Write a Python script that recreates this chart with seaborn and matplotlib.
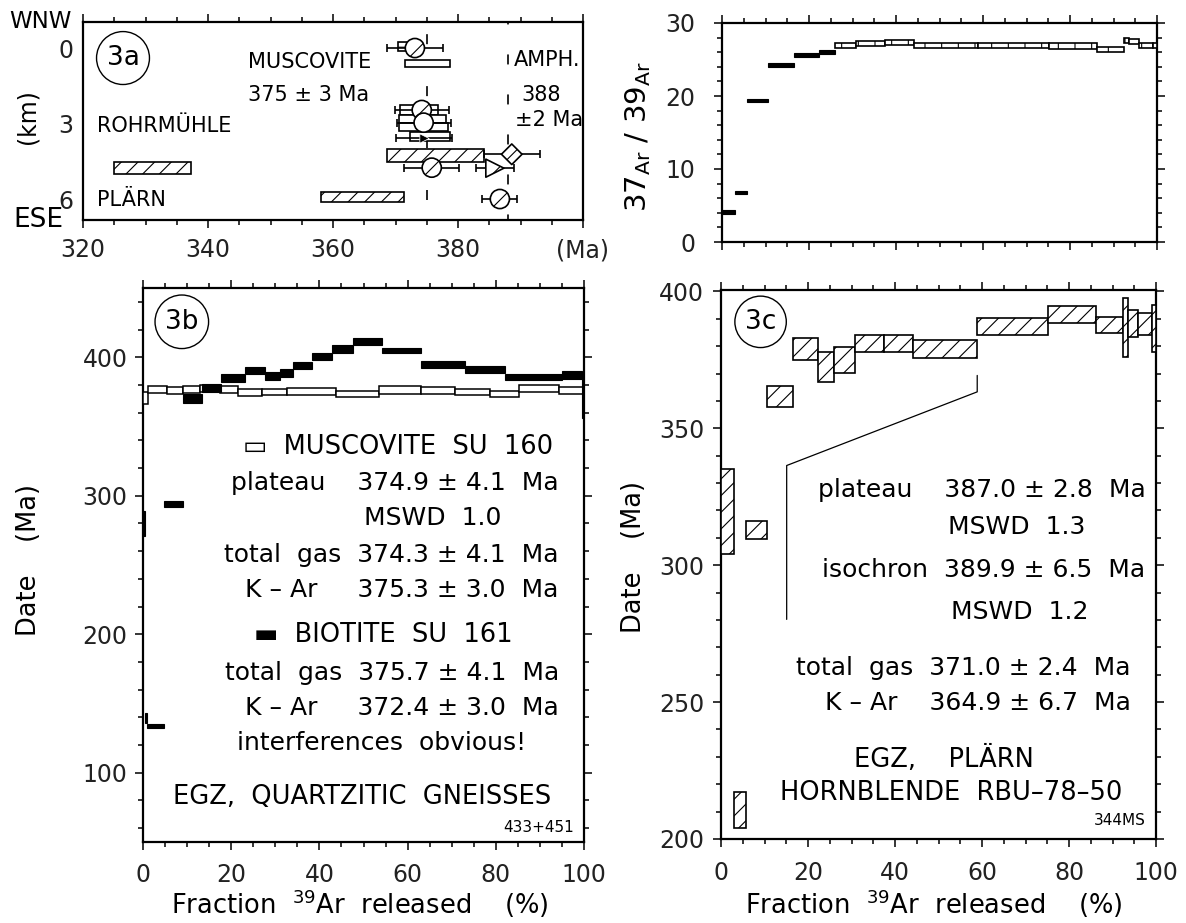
import numpy as np
import matplotlib
matplotlib.use("Agg")
import matplotlib.pyplot as plt
import seaborn as sns
from matplotlib.ticker import FixedLocator, MultipleLocator, NullFormatter

# ------------------------------------------------------------------ data
# Panel 3a : ages (Ma) against structural position (km)
a_open_lo    = [371.5, 370.7, 370.5, 370.5, 372.3]
a_open_hi    = [378.7, 376.8, 378.0, 378.4, 378.7]
a_open_depth = [0.61, 2.45, 2.80, 3.13, 3.50]
a_open_half  = [0.14, 0.19, 0.15, 0.16, 0.19]
a_ruled_lo, a_ruled_hi, a_ruled_depth, a_ruled_half = [370.4], [373.9], [-0.05], [0.18]
a_hatch_lo    = [325.0, 368.6, 358.0]
a_hatch_hi    = [337.3, 384.2, 371.4]
a_hatch_depth = [4.73, 4.25, 5.90]
a_hatch_half  = [0.24, 0.24, 0.20]
a_circle_age   = [373.1, 374.2, 374.5, 375.8, 386.7]
a_circle_depth = [0.00, 2.45, 2.95, 4.73, 5.97]
a_circle_err   = [4.5, 4.3, 4.3, 4.4, 2.8]
a_tri_age, a_tri_depth, a_tri_err = [385.9], [4.75], [3.0]
a_dia_age, a_dia_depth, a_dia_err = [388.6], [4.20], [4.5]
a_arrow_age, a_arrow_depth, a_arrow_err = [374.5], [3.55], [4.5]
a_mean_muscovite = 375.0
a_mean_amphibole = 388.0
a_xticks = [320, 340, 360, 380, 400]
a_xticklabels = ['320', '340', '360', '380', '(Ma)']
a_yticks = [0, 3, 6]

# Panel 3b : age spectra, muscovite SU 160 and biotite SU 161
b_mus_edges = [0, 1.2, 5.4, 9.0, 13.0, 17.5, 21.5, 27.0, 32.7, 43.8, 53.5,
               63.0, 70.8, 78.7, 85.2, 94.3, 100]
b_mus_age = [370.5, 376.8, 376.0, 376.5, 377.3, 376.5, 374.5, 374.8, 375.3,
             373.5, 376.3, 376.0, 375.2, 373.5, 377.3, 376.0]
b_mus_err = [4.5, 2.6, 2.4, 2.4, 2.4, 2.4, 2.4, 2.4, 2.4, 2.2, 2.6, 2.4,
             2.2, 2.2, 2.4, 2.4]
b_bio_edges = [0, 0.4, 1.0, 4.8, 9.0, 13.3, 17.8, 23.1, 27.7, 31.1, 34.0,
               38.3, 42.8, 47.6, 54.2, 63.0, 73.0, 82.0, 95.0, 99.6, 100]
b_bio_age = [279.7, 139.5, 134.0, 294.0, 370.0, 377.7, 384.9, 390.5, 386.3,
             388.5, 394.0, 400.7, 405.8, 411.2, 405.2, 394.9, 391.0, 385.5,
             387.0, 370.0]
b_bio_err = [9.0, 3.3, 1.5, 2.0, 3.3, 2.8, 2.8, 2.8, 2.8, 2.8, 2.7, 2.7,
             2.8, 2.6, 1.8, 2.4, 2.6, 2.2, 3.0, 14.0]

# Panel 3c and 37Ar/39Ar panel : hornblende RBU-78-50
c_edges = [0, 3.1, 5.7, 10.5, 16.5, 22.4, 25.9, 30.9, 37.5, 44.2, 58.9,
           75.1, 86.3, 92.4, 93.6, 95.8, 99.0, 100]
c_age = [319.6, 210.5, 312.8, 361.6, 378.8, 372.5, 374.8, 381.1, 381.1,
         379.0, 387.2, 391.7, 387.7, 386.8, 388.3, 388.0, 386.5]
c_err = [15.6, 6.5, 3.4, 3.7, 4.0, 5.5, 4.75, 3.1, 3.1, 3.2, 3.0, 3.1,
         3.0, 10.6, 4.8, 4.0, 8.5]
r_ratio = [4.1, 6.8, 19.4, 24.2, 25.6, 26.0, 26.9, 27.2, 27.35, 26.95,
           26.95, 26.85, 26.4, 27.6, 27.5, 26.95, 26.9]
r_err = [0.25, 0.25, 0.25, 0.28, 0.3, 0.3, 0.35, 0.35, 0.35, 0.35, 0.35,
         0.35, 0.35, 0.35, 0.35, 0.35, 0.35]
c_bracket_x = [58.9, 58.9, 15.1, 15.1]
c_bracket_y = [369.3, 363.3, 336.4, 280.2]

# ------------------------------------------------------------------ style
sns.set_theme(style="ticks")
plt.rcParams['font.family'] = ['DejaVu Sans']
plt.rcParams['mathtext.fontset'] = 'dejavusans'
plt.rcParams['hatch.linewidth'] = 0.8
plt.rcParams['text.color'] = 'black'
plt.rcParams['axes.labelcolor'] = 'black'
plt.rcParams['lines.scale_dashes'] = False

W, H = 1186, 923
fig = plt.figure(figsize=(W / 100, H / 100), dpi=100)
fig.patch.set_facecolor('white')


def px_axes(left, top, right, bottom):
    return fig.add_axes([left / W, 1 - bottom / H, (right - left) / W, (bottom - top) / H])


ax_a = px_axes(83, 22, 583, 220)
ax_r = px_axes(722, 23, 1157, 242)
ax_b = px_axes(143, 288, 584, 842)
ax_c = px_axes(721, 290, 1156, 839)

TICK_FS = 17


def frame(ax, pad_x, pad_y):
    ax.set_facecolor('white')
    for s in ax.spines.values():
        s.set_visible(True)
        s.set_linewidth(1.6)
        s.set_color('black')
    ax.tick_params(which='both', direction='out', color='black', width=1.1,
                   top=True, right=True, labeltop=False, labelright=False,
                   labelsize=TICK_FS, labelcolor='#222222')
    ax.tick_params(which='major', length=6)
    ax.tick_params(which='minor', length=3.5)
    ax.tick_params(axis='x', which='both', pad=pad_x)
    ax.tick_params(axis='y', which='both', pad=pad_y)
    ax.grid(False)


def steps(ax, edges, center, half, **kw):
    edges = np.asarray(edges, float)
    center = np.asarray(center, float)
    half = np.asarray(half, float)
    ax.bar(edges[:-1], 2 * half, width=np.diff(edges), bottom=center - half,
           align='edge', **kw)


def tag(ax, x, y, s):
    ax.text(x, y, s, transform=ax.transAxes, ha='center', va='center',
            fontsize=19, zorder=10,
            bbox=dict(boxstyle='circle,pad=0.38', fc='none', ec='black', lw=1.0))


# ------------------------------------------------------------------ panel 3a
ax = ax_a
frame(ax, 7, 7)
ax.set_xlim(320, 400)
ax.set_ylim(6.8, -1.03)
ax.xaxis.set_major_locator(FixedLocator(a_xticks))
ax.set_xticklabels(a_xticklabels)
ax.xaxis.set_minor_locator(MultipleLocator(5))
ax.set_yticks(a_yticks)
ax.set_yticklabels([str(v) for v in a_yticks])
ax.tick_params(axis='y', which='both', length=0, left=False, right=False)

l1 = ax.axvline(a_mean_muscovite, color='black', lw=1.2, zorder=1)
l1.set_linestyle((23.0, (7.2, 30.2)))
l2 = ax.axvline(a_mean_amphibole, color='black', lw=1.2, zorder=1)
l2.set_linestyle((3.2, (7.2, 21.6)))

ax.barh(a_hatch_depth, np.subtract(a_hatch_hi, a_hatch_lo), left=a_hatch_lo,
        height=np.multiply(a_hatch_half, 2), facecolor='white', edgecolor='black',
        hatch='//', linewidth=1.2, zorder=3)
ax.barh(a_open_depth, np.subtract(a_open_hi, a_open_lo), left=a_open_lo,
        height=np.multiply(a_open_half, 2), facecolor='white', edgecolor='black',
        linewidth=1.2, zorder=3)
ax.barh(a_ruled_depth, np.subtract(a_ruled_hi, a_ruled_lo), left=a_ruled_lo,
        height=np.multiply(a_ruled_half, 2), facecolor='white', edgecolor='black',
        hatch='---', linewidth=1.2, zorder=3)

for xs, ys, es in [(a_circle_age, a_circle_depth, a_circle_err),
                   (a_tri_age, a_tri_depth, a_tri_err),
                   (a_dia_age, a_dia_depth, a_dia_err),
                   (a_arrow_age, a_arrow_depth, a_arrow_err)]:
    ax.errorbar(xs, ys, xerr=es, fmt='none', ecolor='black', elinewidth=1.2,
                capsize=3, capthick=1.2, zorder=4)
sns.scatterplot(x=a_circle_age, y=a_circle_depth, ax=ax, marker='o', s=190,
                facecolor='white', edgecolor='black', linewidth=1.2, hatch='/',
                zorder=5, legend=False)
sns.scatterplot(x=a_tri_age, y=a_tri_depth, ax=ax, marker='>', s=170,
                facecolor='white', edgecolor='black', linewidth=1.2, hatch='/',
                zorder=5, legend=False)
sns.scatterplot(x=a_dia_age, y=a_dia_depth, ax=ax, marker='D', s=110,
                facecolor='white', edgecolor='black', linewidth=1.2, hatch='/',
                zorder=5, legend=False)
sns.scatterplot(x=a_arrow_age, y=a_arrow_depth, ax=ax, marker='>', s=45,
                color='black', zorder=5, legend=False)
ax.set_xlabel('')
ax.set_ylabel('(km)', fontsize=17)
ax.yaxis.set_label_coords(-0.086, 0.52)

tag(ax, 0.08, 0.818, '3a')
afs = 15
ax.text(346.4, 0.55, 'MUSCOVITE', fontsize=afs, ha='left', va='center')
ax.text(346.4, 1.86, '375 ± 3 Ma', fontsize=afs, ha='left', va='center')
ax.text(322.2, 3.08, 'ROHRMÜHLE', fontsize=afs, ha='left', va='center')
ax.text(322.2, 6.0, 'PLÄRN', fontsize=afs, ha='left', va='center')
ax.text(388.9, 0.47, 'AMPH.', fontsize=afs, ha='left', va='center')
ax.text(390.2, 1.85, '388', fontsize=afs, ha='left', va='center')
ax.text(389.1, 2.84, '±2 Ma', fontsize=afs, ha='left', va='center')
ax.text(-0.022, 1.0, 'WNW', transform=ax.transAxes, fontsize=16.5,
        ha='right', va='center')
ax.text(-0.04, 0.0, 'ESE', transform=ax.transAxes, fontsize=19,
        ha='right', va='center')

# ------------------------------------------------------------------ 37Ar/39Ar
ax = ax_r
frame(ax, 8, 13)
ax.set_xlim(0, 100)
ax.set_ylim(0, 30)
ax.xaxis.set_major_locator(MultipleLocator(20))
ax.xaxis.set_minor_locator(MultipleLocator(5))
ax.xaxis.set_major_formatter(NullFormatter())
ax.yaxis.set_major_locator(MultipleLocator(10))
ax.yaxis.set_minor_locator(MultipleLocator(2))
n_dark = 6
steps(ax, c_edges[:n_dark + 1], r_ratio[:n_dark], r_err[:n_dark],
      facecolor='black', edgecolor='black', linewidth=0.8, zorder=3)
steps(ax, c_edges[n_dark:], r_ratio[n_dark:], r_err[n_dark:],
      facecolor='white', edgecolor='black', linewidth=1.2, hatch='|', zorder=3)
ax.set_ylabel(r'$\mathregular{37_{Ar}\ /\ 39_{Ar}}$', fontsize=21)
ax.yaxis.set_label_coords(-0.159, 0.48)

# ------------------------------------------------------------------ panel 3b
ax = ax_b
frame(ax, 9, 5)
ax.set_xlim(0, 100)
ax.set_ylim(50, 450)
ax.xaxis.set_major_locator(MultipleLocator(20))
ax.xaxis.set_minor_locator(MultipleLocator(5))
ax.yaxis.set_major_locator(FixedLocator([100, 200, 300, 400]))
ax.yaxis.set_minor_locator(MultipleLocator(20))
steps(ax, b_mus_edges, b_mus_age, b_mus_err, facecolor='white',
      edgecolor='black', linewidth=1.1, zorder=3)
steps(ax, b_bio_edges, b_bio_age, b_bio_err, facecolor='black',
      edgecolor='black', linewidth=0.8, zorder=4)
ax.set_xlabel(r'Fraction  $^{39}$Ar  released    (%)', fontsize=18.5)
ax.xaxis.set_label_coords(0.492, -0.083)
ax.set_ylabel('Date    (Ma)', fontsize=18.5)
ax.yaxis.set_label_coords(-0.229, 0.509)
tag(ax, 0.088, 0.939, '3b')

fs = 18
ax.text(0.93, 0.713, '▭  MUSCOVITE  SU  160', transform=ax.transAxes,
        fontsize=18.5, ha='right', va='center')
ax.text(0.943, 0.648, 'plateau    374.9 ± 4.1  Ma', transform=ax.transAxes,
        fontsize=fs, ha='right', va='center')
ax.text(0.658, 0.585, 'MSWD  1.0', transform=ax.transAxes,
        fontsize=fs, ha='center', va='center')
ax.text(0.943, 0.518, 'total  gas  374.3 ± 4.1  Ma', transform=ax.transAxes,
        fontsize=fs, ha='right', va='center')
ax.text(0.943, 0.455, 'K – Ar     375.3 ± 3.0  Ma', transform=ax.transAxes,
        fontsize=fs, ha='right', va='center')
ax.text(0.839, 0.374, '▬  BIOTITE  SU  161', transform=ax.transAxes,
        fontsize=18.5, ha='right', va='center')
ax.text(0.943, 0.305, 'total  gas  375.7 ± 4.1  Ma', transform=ax.transAxes,
        fontsize=fs, ha='right', va='center')
ax.text(0.943, 0.242, 'K – Ar     372.4 ± 3.0  Ma', transform=ax.transAxes,
        fontsize=fs, ha='right', va='center')
ax.text(0.542, 0.179, 'interferences  obvious!', transform=ax.transAxes,
        fontsize=fs, ha='center', va='center')
ax.text(0.497, 0.081, 'EGZ,  QUARTZITIC  GNEISSES', transform=ax.transAxes,
        fontsize=18.5, ha='center', va='center')
ax.text(0.977, 0.027, '433+451', transform=ax.transAxes,
        fontsize=11, ha='right', va='center')

# ------------------------------------------------------------------ panel 3c
ax = ax_c
frame(ax, 9.5, 6)
ax.set_xlim(0, 100)
ax.set_ylim(200, 400.5)
ax.xaxis.set_major_locator(MultipleLocator(20))
ax.xaxis.set_minor_locator(MultipleLocator(5))
ax.yaxis.set_major_locator(FixedLocator([200, 250, 300, 350, 400]))
ax.yaxis.set_minor_locator(MultipleLocator(10))
steps(ax, c_edges, c_age, c_err, facecolor='white', edgecolor='black',
      hatch='//', linewidth=1.2, zorder=3)
ax.plot(c_bracket_x, c_bracket_y, color='black', lw=0.9, zorder=2)
ax.set_xlabel(r'Fraction  $^{39}$Ar  released    (%)', fontsize=18.5)
ax.xaxis.set_label_coords(0.49, -0.089)
ax.set_ylabel('Date    (Ma)', fontsize=18.5)
ax.yaxis.set_label_coords(-0.17, 0.514)
tag(ax, 0.091, 0.942, '3c')

ax.text(0.976, 0.636, 'plateau    387.0 ± 2.8  Ma', transform=ax.transAxes,
        fontsize=fs, ha='right', va='center')
ax.text(0.680, 0.568, 'MSWD  1.3', transform=ax.transAxes,
        fontsize=fs, ha='center', va='center')
ax.text(0.976, 0.490, 'isochron  389.9 ± 6.5  Ma', transform=ax.transAxes,
        fontsize=fs, ha='right', va='center')
ax.text(0.687, 0.413, 'MSWD  1.2', transform=ax.transAxes,
        fontsize=fs, ha='center', va='center')
ax.text(0.942, 0.311, 'total  gas  371.0 ± 2.4  Ma', transform=ax.transAxes,
        fontsize=fs, ha='right', va='center')
ax.text(0.942, 0.248, 'K – Ar    364.9 ± 6.7  Ma', transform=ax.transAxes,
        fontsize=fs, ha='right', va='center')
ax.text(0.513, 0.144, 'EGZ,    PLÄRN', transform=ax.transAxes,
        fontsize=18.5, ha='center', va='center')
ax.text(0.529, 0.084, 'HORNBLENDE  RBU–78–50', transform=ax.transAxes,
        fontsize=18.5, ha='center', va='center')
ax.text(0.977, 0.033, '344MS', transform=ax.transAxes,
        fontsize=11, ha='right', va='center')

fig.savefig('out.png', dpi=100, facecolor='white')
